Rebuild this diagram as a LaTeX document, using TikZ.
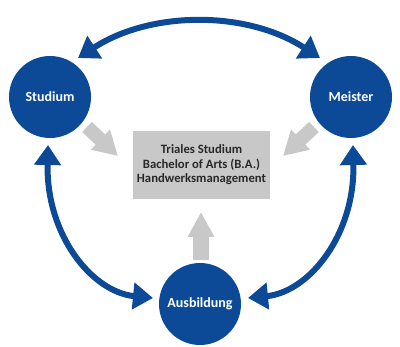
\documentclass[tikz,border=0pt]{standalone}
\usepackage{fontspec}
\setmainfont{Carlito}
\usetikzlibrary{arrows.meta}
\definecolor{dblue}{RGB}{12,74,152}
\definecolor{lgrey}{RGB}{200,200,200}
\definecolor{txtgrey}{RGB}{40,40,40}
\tikzset{
  phase/.style={circle,fill=dblue,minimum size=82pt,inner sep=0pt,text=white,font=\bfseries\fontsize{14}{16}\selectfont},
  centerbox/.style={rectangle,fill=lgrey,minimum width=137pt,minimum height=68pt,inner sep=0pt,align=center,text=txtgrey,font=\bfseries\fontsize{12.7}{14.5}\selectfont},
  bluearc/.style={draw=dblue,line width=6pt,{Triangle[length=20pt,width=26pt]}-{Triangle[length=20pt,width=26pt]}},
  greyarrow/.style={draw=lgrey,line width=14pt,-{Triangle[length=24pt,width=26pt]}}
}
\begin{document}
\begin{tikzpicture}[x=1pt,y=-1pt]
\useasboundingbox (0,0) rectangle (400,347);
\node[phase] (stu) at (50,97) {Studium};
\node[phase] (mei) at (351,97) {Meister};
\node[phase] (aus) at (200,304) {Ausbildung};
\node[centerbox] (box) at (201.5,165) {Triales Studium\\Bachelor of Arts (B.A.)\\Handwerksmanagement};
% blue arcs
\coordinate (t1) at (78,58);
\coordinate (t2) at (320,58);
\coordinate (l1) at (48,145);
\coordinate (l2) at (153,298);
\coordinate (r1) at (353,145);
\coordinate (r2) at (248,298);
\draw[bluearc] (t1) .. controls (151,10.5) and (247,10.5) .. (t2);
\draw[bluearc] (l1) .. controls (46,235) and (92,292) .. (l2);
\draw[bluearc] (r1) .. controls (355,235) and (309,292) .. (r2);
% grey arrows
\coordinate (gs1) at (87,127);
\coordinate (gs2) at (118,156);
\coordinate (gm1) at (314,127);
\coordinate (gm2) at (283,156);
\coordinate (ga1) at (201,260);
\coordinate (ga2) at (201,212);
\draw[greyarrow] (gs1) -- (gs2);
\draw[greyarrow] (gm1) -- (gm2);
\draw[greyarrow,line width=16pt,-{Triangle[length=25pt,width=25pt]}] (ga1) -- (ga2);
\end{tikzpicture}
\end{document}
